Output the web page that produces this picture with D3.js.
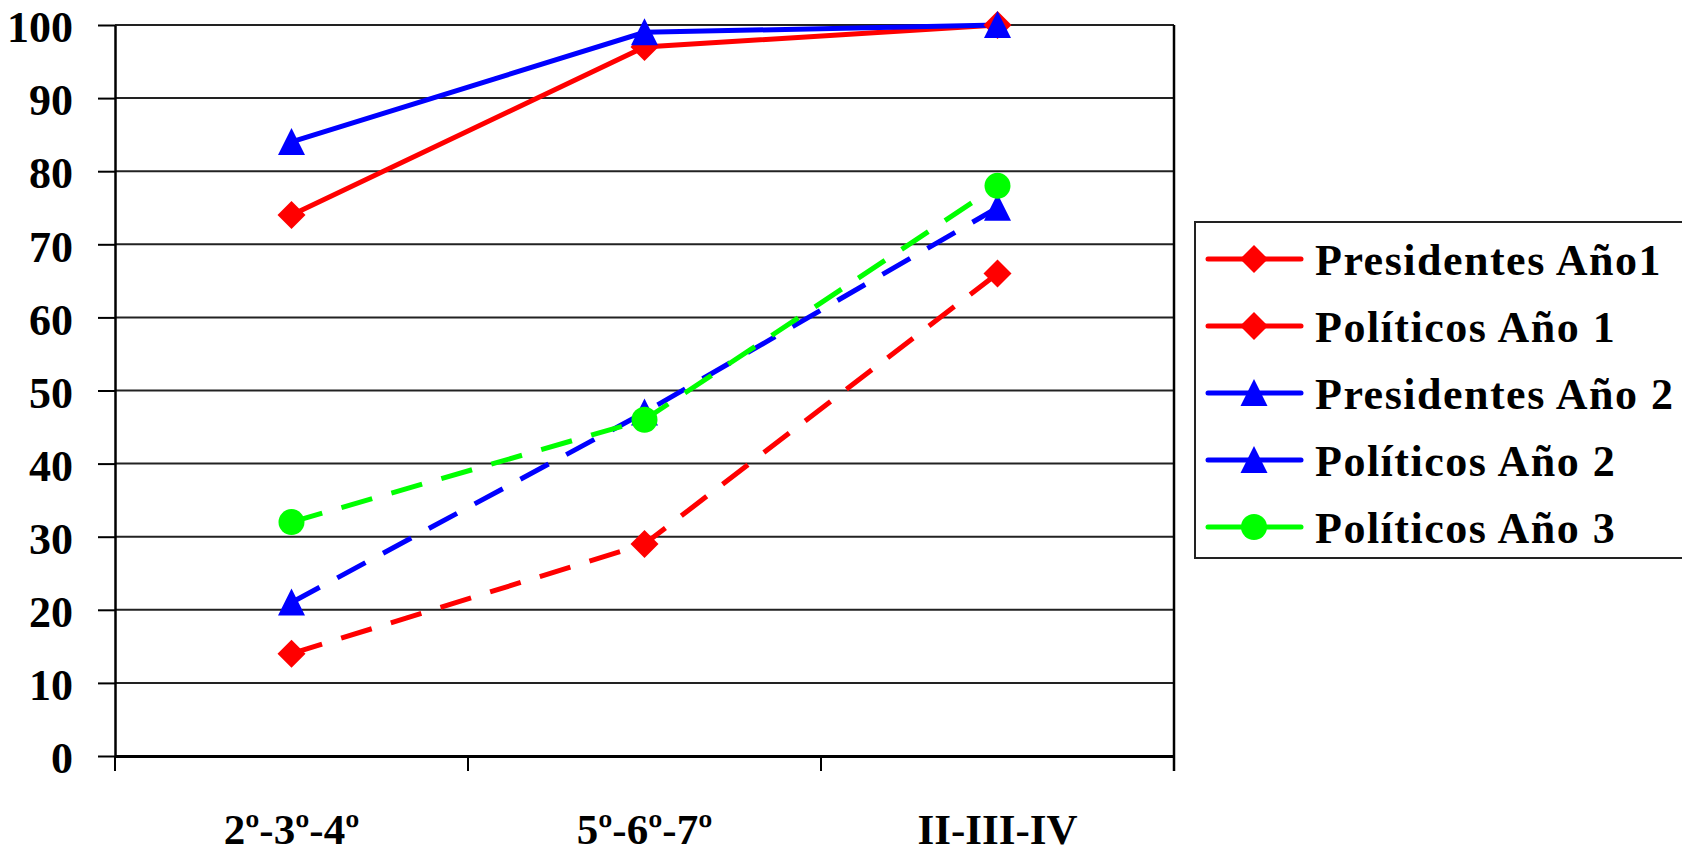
<!DOCTYPE html>
<html><head><meta charset="utf-8">
<script src="https://cdn.jsdelivr.net/npm/d3@7/dist/d3.min.js"></script>
<style>body{margin:0;background:#fff}svg{display:block}</style>
</head><body>
<svg id="c" width="1682" height="853"></svg>
<script>
const categories = ["2º-3º-4º", "5º-6º-7º", "II-III-IV"];
const presidentesAno1 = [74, 97, 100];
const politicosAno1 = [14, 29, 66];
const presidentesAno2 = [84, 99, 100];
const politicosAno2 = [21, 47, 75];
const politicosAno3 = [32, 46, 78];
const yTicks = [0,10,20,30,40,50,60,70,80,90,100];
const seriesNames = ["Presidentes Año1","Políticos Año 1","Presidentes Año 2","Políticos Año 2","Políticos Año 3"];

const series = [
  {name: seriesNames[0], values: presidentesAno1, color: "#ff0000", dash: null, marker: "diamond"},
  {name: seriesNames[1], values: politicosAno1, color: "#ff0000", dash: "32,20", marker: "diamond"},
  {name: seriesNames[2], values: presidentesAno2, color: "#0000ff", dash: null, marker: "triangle"},
  {name: seriesNames[3], values: politicosAno2, color: "#0000ff", dash: "32,20", marker: "triangle"},
  {name: seriesNames[4], values: politicosAno3, color: "#00ff00", dash: "32,20", marker: "circle"}
];

const svg = d3.select("#c");
const L = 115, R = 1174, T = 25, B = 756;
const x = d3.scaleBand().domain(categories).range([L, R]);
const y = d3.scaleLinear().domain([0, 100]).range([B, T]);
const font = "'Liberation Serif', 'Times New Roman', serif";

// gridlines
svg.append("g").selectAll("line").data(yTicks.filter(d => d > 0)).join("line")
  .attr("x1", L).attr("x2", R).attr("y1", d => y(d)).attr("y2", d => y(d))
  .attr("stroke", "#222").attr("stroke-width", 2);

// y axis
const yAxis = svg.append("g").attr("transform", `translate(${L},0)`)
  .call(d3.axisLeft(y).tickValues(yTicks).tickSize(17).tickPadding(25).tickSizeOuter(0));
yAxis.select(".domain").attr("stroke", "#000").attr("stroke-width", 2.5);
yAxis.selectAll(".tick line").attr("stroke", "#000").attr("stroke-width", 2);
yAxis.selectAll(".tick text").attr("font-family", font).attr("font-weight", "bold")
  .attr("font-size", 44).attr("fill", "#000").attr("dy", "0.38em");

// right border
svg.append("line").attr("x1", R).attr("x2", R).attr("y1", T).attr("y2", B + 15)
  .attr("stroke", "#000").attr("stroke-width", 2.5);

// x axis
const xAxis = svg.append("g").attr("transform", `translate(0,${B})`)
  .call(d3.axisBottom(x).tickSize(0).tickPadding(0));
xAxis.select(".domain").attr("stroke", "#000").attr("stroke-width", 3);
xAxis.selectAll(".tick text").attr("font-family", font).attr("font-weight", "bold")
  .attr("font-size", 43).attr("fill", "#000").attr("dy", null).attr("y", 88);
// category boundary ticks
const bounds = categories.map(c => x(c)).concat([x(categories[categories.length-1]) + x.bandwidth()]);
svg.append("g").selectAll("line").data(bounds).join("line")
  .attr("x1", d => d).attr("x2", d => d).attr("y1", B).attr("y2", B + 15)
  .attr("stroke", "#000").attr("stroke-width", 2);

const cx = c => x(c) + x.bandwidth() / 2;
const sym = {
  diamond: "M0,-14L14,0L0,14L-14,0Z",
  triangle: "M0,-14L13.5,13L-13.5,13Z",
  circle: "M13,0A13,13 0 1,1 -13,0A13,13 0 1,1 13,0Z"
};

const line = d3.line().x((d, i) => cx(categories[i])).y(d => y(d));
series.forEach(s => {
  svg.append("path").datum(s.values).attr("d", line)
    .attr("fill", "none").attr("stroke", s.color).attr("stroke-width", 5)
    .attr("stroke-dasharray", s.dash);
});
series.forEach(s => {
  svg.append("g").selectAll("path").data(s.values).join("path")
    .attr("transform", (d, i) => `translate(${cx(categories[i])},${y(d)})`)
    .attr("d", sym[s.marker]).attr("fill", s.color);
});

// legend
const lg = svg.append("g");
lg.append("rect").attr("x", 1195).attr("y", 222).attr("width", 520).attr("height", 336)
  .attr("fill", "#fff").attr("stroke", "#222").attr("stroke-width", 2);
series.forEach((s, i) => {
  const yy = 259 + i * 67;
  lg.append("line").attr("x1", 1208).attr("x2", 1301).attr("y1", yy).attr("y2", yy)
    .attr("stroke", s.color).attr("stroke-width", 5).attr("stroke-linecap", "round");
  lg.append("path").attr("transform", `translate(1254,${yy})`).attr("d", sym[s.marker]).attr("fill", s.color);
  lg.append("text").attr("x", 1315).attr("y", yy).attr("dy", "0.36em")
    .attr("font-family", font).attr("font-weight", "bold").attr("font-size", 44)
    .attr("letter-spacing", 1.5).attr("fill", "#000").text(s.name);
});
</script>
</body></html>
